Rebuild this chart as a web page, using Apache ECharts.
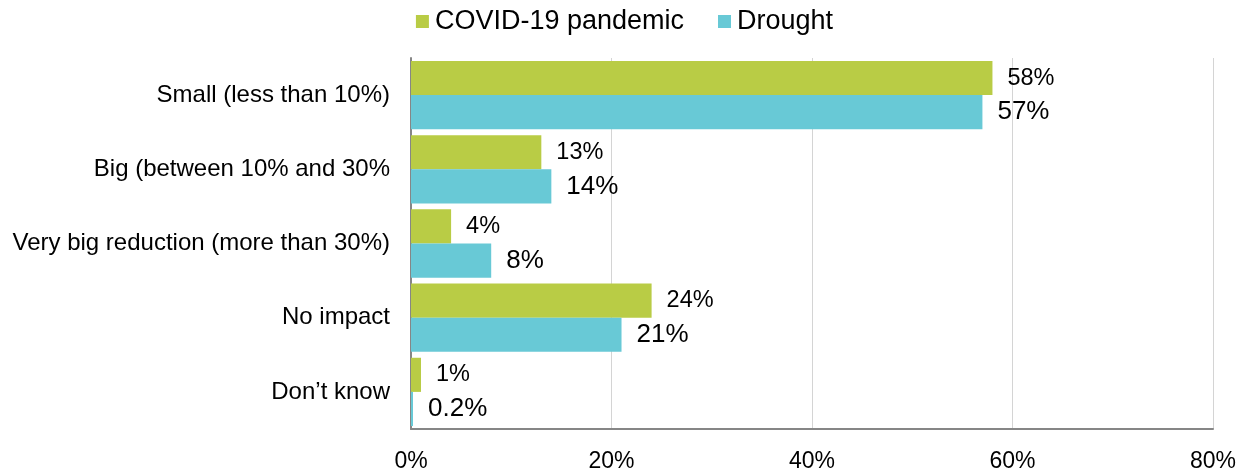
<!DOCTYPE html>
<html>
<head>
<meta charset="utf-8">
<script src="https://cdn.jsdelivr.net/npm/echarts@6/dist/echarts.min.js"></script>
<style>
  html, body { margin: 0; padding: 0; background: #ffffff; }
  #chart { width: 1249px; height: 475px; }
</style>
</head>
<body>
<div id="chart"></div>
<script>
// Survey answers: size of the impact on income
const categories = [
  'Small (less than 10%)',
  'Big (between 10% and 30%',
  'Very big reduction (more than 30%)',
  'No impact',
  'Don\u2019t know'
];
const seriesNames = ['COVID-19 pandemic', 'Drought'];
const covidValues = [58, 13, 4, 24, 1];
const droughtValues = [57, 14, 8, 21, 0.2];
const xTicks = [0, 20, 40, 60, 80];

const FONT = '"Liberation Sans", Arial, sans-serif';
const GREEN = '#B9CC45';
const BLUE = '#68C9D6';

const chart = echarts.init(document.getElementById('chart'), null, { renderer: 'canvas' });

chart.setOption({
  animation: false,
  textStyle: { fontFamily: FONT, color: '#000' },
  legend: {
    data: seriesNames,
    top: 3,
    left: 'center',
    icon: 'rect',
    itemWidth: 13,
    itemHeight: 13,
    itemGap: 34,
    textStyle: { fontFamily: FONT, fontSize: 27, color: '#000', padding: [0, 0, 0, 1] }
  },
  grid: { left: 411, right: 36, top: 58, bottom: 46, containLabel: false },
  xAxis: {
    type: 'value',
    min: xTicks[0],
    max: xTicks[xTicks.length - 1],
    interval: 20,
    axisLine: { show: true, lineStyle: { color: '#868686', width: 2 } },
    axisTick: { show: false },
    splitLine: { show: true, lineStyle: { color: '#d4d4d4', width: 1 } },
    axisLabel: {
      fontFamily: FONT, fontSize: 23, color: '#000', margin: 21,
      formatter: v => v + '%'
    }
  },
  yAxis: {
    type: 'category',
    data: categories,
    inverse: true,
    axisLine: { show: true, lineStyle: { color: '#868686', width: 2 } },
    axisTick: { show: false },
    axisLabel: { fontFamily: FONT, fontSize: 24, color: '#000', margin: 21 }
  },
  series: [
    {
      name: seriesNames[0],
      type: 'bar',
      data: covidValues,
      barGap: '0%',
      barCategoryGap: '8%',
      itemStyle: { color: GREEN },
      label: {
        show: true, position: 'right', distance: 15,
        fontFamily: FONT, fontSize: 23.5, color: '#000',
        formatter: p => p.value + '%'
      }
    },
    {
      name: seriesNames[1],
      type: 'bar',
      data: droughtValues,
      barGap: '0%',
      barCategoryGap: '8%',
      itemStyle: { color: BLUE },
      label: {
        show: true, position: 'right', distance: 15,
        fontFamily: FONT, fontSize: 26, color: '#000',
        formatter: p => p.value + '%'
      }
    }
  ]
});
</script>
</body>
</html>
